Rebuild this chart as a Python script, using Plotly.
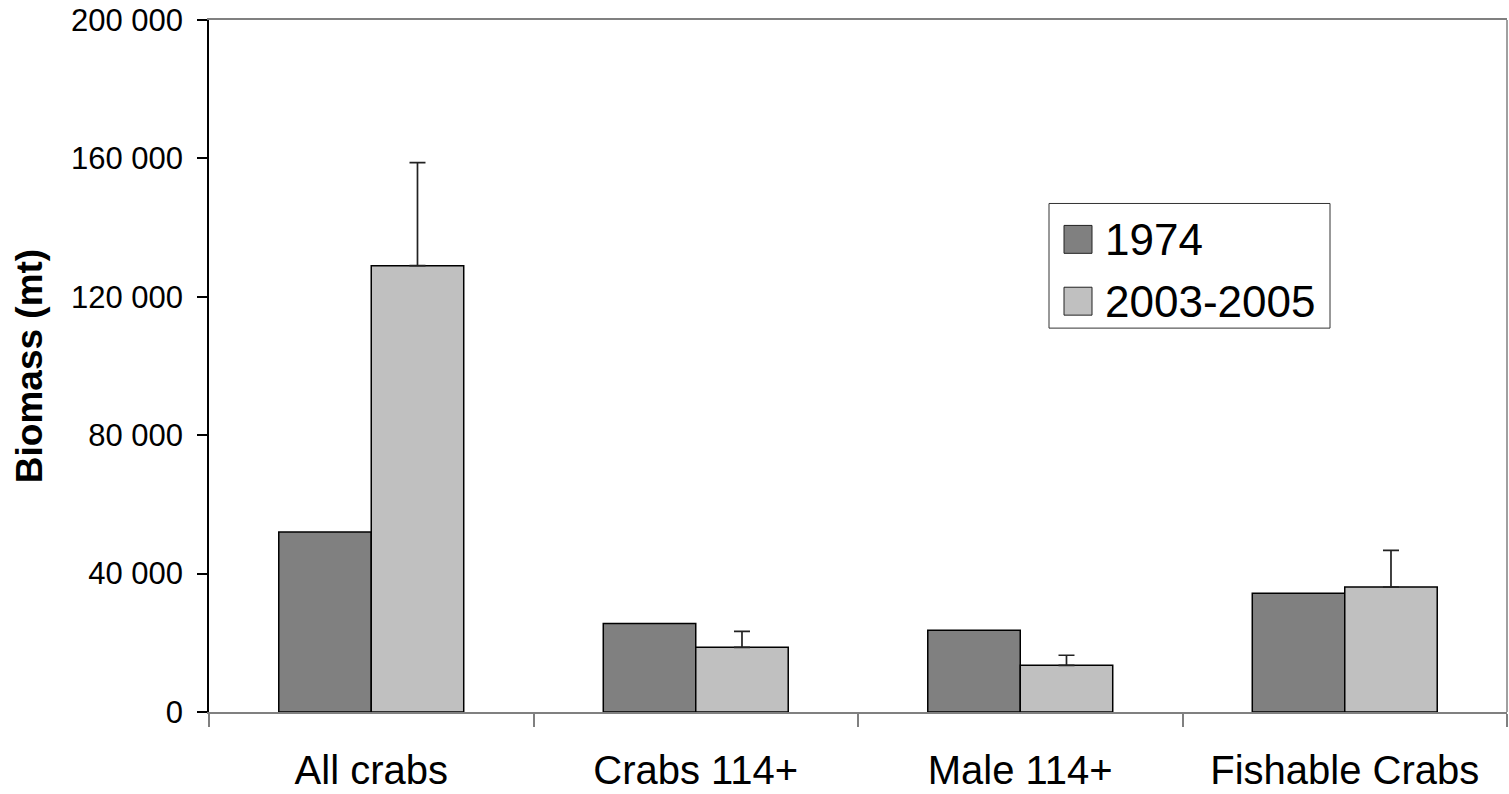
import plotly.graph_objects as go

categories = ["All crabs", "Crabs 114+", "Male 114+", "Fishable Crabs"]
series_names = ["1974", "2003-2005"]
values_1974 = [52000, 25600, 23600, 34300]
values_2003_2005 = [129000, 18700, 13500, 36100]
err_2003_2005 = [29800, 4600, 2900, 10600]
y_ticks = [0, 40000, 80000, 120000, 160000, 200000]

colors = ["#808080", "#C0C0C0"]
FONT = "Liberation Sans, Arial, sans-serif"

fig = go.Figure()
fig.add_trace(go.Bar(
    name=series_names[0], x=categories, y=values_1974,
    marker=dict(color=colors[0], line=dict(color="#000000", width=1.5)),
))
fig.add_trace(go.Bar(
    name=series_names[1], x=categories, y=values_2003_2005,
    marker=dict(color=colors[1], line=dict(color="#000000", width=1.5)),
    error_y=dict(type="data", array=err_2003_2005, symmetric=False,
                 arrayminus=[0] * len(err_2003_2005),
                 color="#222222", thickness=1.7, width=8),
))

# manual legend (large swatches like the original)
fig.add_shape(type="rect", xref="paper", yref="paper",
              x0=(1049 - 209) / 1298, x1=(1330 - 209) / 1298,
              y0=(714 - 329) / 694, y1=(714 - 204) / 694,
              line=dict(color="#333333", width=1), fillcolor="white")
legend_rows = [240, 302]
for name, col, yc in zip(series_names, colors, legend_rows):
    fig.add_shape(type="rect", xref="paper", yref="paper",
                  x0=(1064 - 209) / 1298, x1=(1092 - 209) / 1298,
                  y0=(714 - yc - 14) / 694, y1=(714 - yc + 14) / 694,
                  line=dict(color="#222222", width=1), fillcolor=col)
    fig.add_annotation(xref="paper", yref="paper",
                       x=(1103 - 209) / 1298, y=(714 - yc) / 694,
                       text=name, showarrow=False, xanchor="left", yanchor="middle",
                       font=dict(family=FONT, size=44, color="black"))

# right border of plot area
fig.add_shape(type="line", xref="paper", yref="paper", x0=1, x1=1, y0=0, y1=1,
              line=dict(color="#808080", width=1.5))

fig.update_layout(
    width=1509, height=794,
    margin=dict(l=209, r=2, t=20, b=80),
    paper_bgcolor="white", plot_bgcolor="white",
    barmode="group", bargap=0.43, bargroupgap=0,
    showlegend=False,
    separators=". ",
    font=dict(family=FONT, color="black"),
    xaxis=dict(
        showline=True, linecolor="#808080", linewidth=1.5, mirror=True,
        ticks="outside", ticklen=13, tickcolor="#808080", tickwidth=1.5,
        tickson="boundaries", showgrid=False,
        tickfont=dict(size=40, family=FONT, color="black"),
        ticklabelstandoff=22,
    ),
    yaxis=dict(
        range=[0, 200000], tickvals=y_ticks, tickformat=",d",
        showline=True, linecolor="black", linewidth=1.5,
        ticks="outside", ticklen=10, tickcolor="black", tickwidth=1.5,
        showgrid=False, zeroline=False,
        tickfont=dict(size=31, family=FONT, color="black"),
        ticklabelstandoff=8,
        title=dict(text="<b>Biomass (mt)</b>", standoff=17,
                   font=dict(size=37, family=FONT, color="black")),
    ),
)

fig.write_html("out.html", config={"displayModeBar": False},
               post_script="document.body.style.margin='0';document.body.style.overflow='hidden';")
